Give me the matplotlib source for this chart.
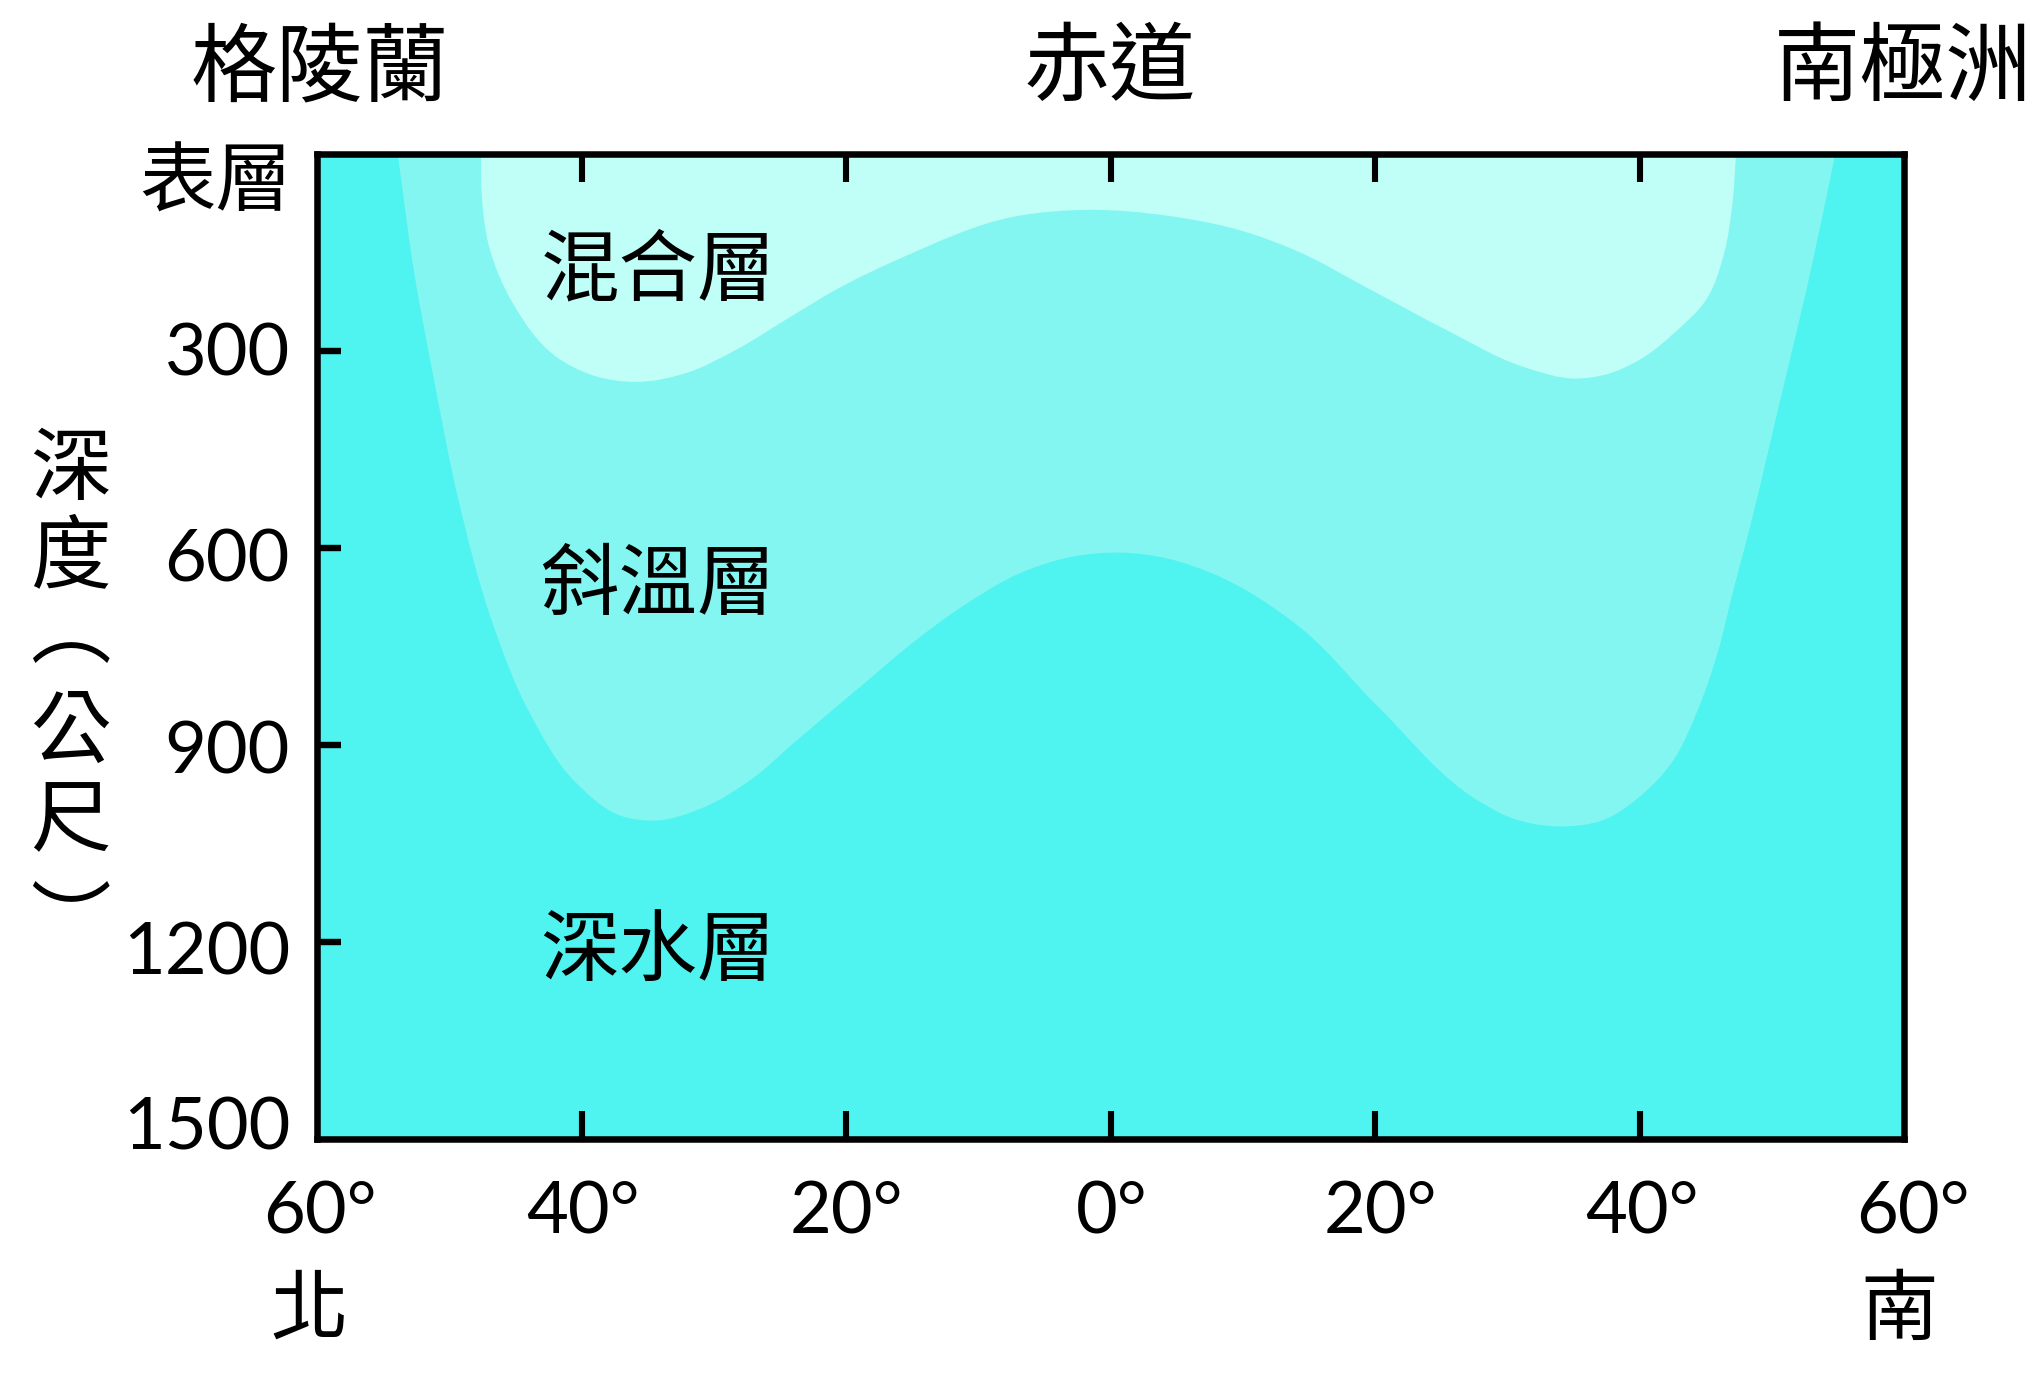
import numpy as np
import matplotlib
matplotlib.use('Agg')
import matplotlib.pyplot as plt
from matplotlib.path import Path
from matplotlib.patches import PathPatch

plt.rcParams['font.family'] = ['Noto Sans CJK TC', 'DejaVu Sans']

# boundary of the mixed layer, lat (north negative) / depth in m
mixed_lat = [-47.6, -47.55, -47.0, -45.2, -41.9, -39.0, -35.8, -32.0, -28.3, -24.2, -20.8,
             -15.9, -7.2, -1.5, 4.3, 10.1, 13.9, 19.7, 25.4, 31.2, 35.2, 37.4, 40.2, 42.6,
             45.1, 46.4, 47.0, 47.3]
mixed_depth = [0, 60, 140, 227, 309, 338, 347, 333, 298, 248, 207,
               159, 95, 85, 94, 118, 146, 207, 268, 324, 342, 336, 311, 273,
               220, 151, 80, 0]

# boundary of the thermocline
thermo_lat = [-53.9, -52.6, -51.2, -49.3, -46.8, -43.9, -40.4, -37.0, -34.3, -31.0, -27.0,
              -23.9, -18.9, -15.0, -11.2, -6.8, -2.8, 0.6, 4.3, 7.6, 14.4, 20.1, 27.9, 30.3,
              34.0, 37.3, 40.0, 42.4, 44.4, 45.9, 47.1, 48.1, 50.7, 52.9, 54.8]
thermo_depth = [0, 187, 339, 527, 710, 852, 958, 1008, 1015, 997, 950,
                896, 811, 745, 689, 638, 613, 607, 616, 638, 722, 839, 986, 1011,
                1024, 1014, 979, 928, 847, 760, 664, 588, 370, 182, 0]

depth_ticks = [300, 600, 900, 1200]
lat_ticks = [-40, -20, 0, 20, 40]

place_labels = ['格陵蘭', '赤道', '南極洲']
layer_labels = ['混合層', '斜溫層', '深水層']
depth_labels = ['表層', '300', '600', '900', '1200', '1500']
lat_labels = ['60°', '40°', '20°', '0°', '20°', '40°', '60°']
ylabel_chars = ['深', '度', '︵', '公', '尺', '︶']

W, H = 2042, 1374
DEEP = '#4FF3F0'
THERMO = '#84F6F1'
MIXED = '#BFFFF8'
NUM_FONT = ['Lato', 'DejaVu Sans']


def smooth_patch(xs, ys, color):
    # spline through the read points as bezier segments, tangents by chord length on screen
    pts = np.column_stack([xs, ys]).astype(float)
    scale = np.array([13.2, 0.657])
    seg = np.hypot(*((pts[1:] - pts[:-1]) * scale).T)
    n = len(pts)
    tan = np.zeros_like(pts)
    tan[0] = (pts[1] - pts[0]) / seg[0]
    tan[-1] = (pts[-1] - pts[-2]) / seg[-1]
    for i in range(1, n - 1):
        # weight by the opposite chord so uneven spacing does not overshoot
        a = (pts[i] - pts[i - 1]) / seg[i - 1]
        b = (pts[i + 1] - pts[i]) / seg[i]
        tan[i] = (a * seg[i] + b * seg[i - 1]) / (seg[i - 1] + seg[i])
    verts = [pts[0]]
    codes = [Path.MOVETO]
    for i in range(n - 1):
        verts += [pts[i] + tan[i] * seg[i] / 3, pts[i + 1] - tan[i + 1] * seg[i] / 3, pts[i + 1]]
        codes += [Path.CURVE4] * 3
    verts.append(pts[0])
    codes.append(Path.CLOSEPOLY)
    return PathPatch(Path(np.array(verts), codes), facecolor=color, edgecolor='none', zorder=1)


def px_text(x, y, s, size, **kw):
    kw.setdefault('ha', 'center')
    kw.setdefault('va', 'center')
    return fig.text(x / W, 1 - y / H, s, fontsize=size, color='black', **kw)


fig = plt.figure(figsize=(W / 100, H / 100), dpi=100)
ax = fig.add_axes([317 / W, 1 - 1139 / H, (1904 - 317) / W, (1139 - 154) / H])
ax.set_facecolor(DEEP)
ax.set_xlim(-60, 60)
ax.set_ylim(1500, 0)

ax.add_patch(smooth_patch(thermo_lat, thermo_depth, THERMO))
ax.add_patch(smooth_patch(mixed_lat, mixed_depth, MIXED))

for s in ax.spines.values():
    s.set_linewidth(4.7)
ax.set_xticks(lat_ticks)
ax.set_yticks(depth_ticks)
ax.tick_params(axis='x', direction='in', top=True, bottom=True, length=20, width=4.4,
               labelbottom=False)
ax.tick_params(axis='y', direction='in', length=17, width=4.6, labelleft=False)

# titles
for x, s in zip([320, 1110, 1903], place_labels):
    px_text(x, 70, s, 62)

# layer names
for y, s in zip([272, 586, 952], layer_labels):
    px_text(658, y, s, 56.5)

# depth labels, right aligned against the axis
for y, s in zip([184, 355, 561, 753, 954, 1129], depth_labels):
    if s == '表層':
        px_text(292, y, s, 55, ha='right')
    else:
        px_text(290, y, s, 52, ha='right', family=NUM_FONT)

# latitude labels
for x, s in zip([320, 583, 846, 1112, 1380, 1642, 1913], lat_labels):
    px_text(x, 1213, s, 52, family=NUM_FONT)
px_text(309, 1312, '北', 56)
px_text(1899, 1312, '南', 56)

# stacked vertical label
for y, s in zip([471, 558, 634, 734, 822, 925], ylabel_chars):
    px_text(70, y, s, 58)

fig.savefig('out.png', dpi=100)
